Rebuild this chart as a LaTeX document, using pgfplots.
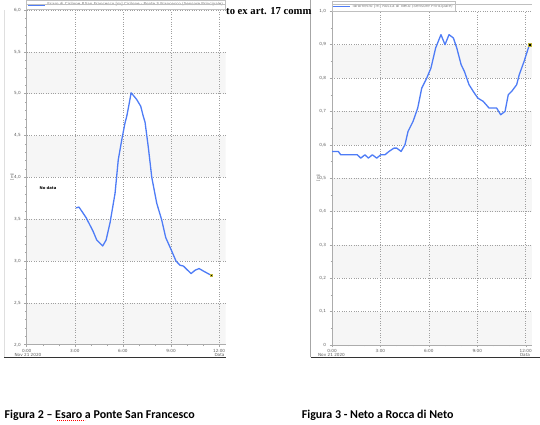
\documentclass[border=0pt]{standalone}
\usepackage{fontspec}
\setmainfont{DejaVu Sans}
\newfontfamily\timesb{Liberation Serif}
\newfontfamily\carlito{Carlito}
\usepackage{pgfplots}
\pgfplotsset{compat=1.18}
\definecolor{band}{rgb}{0.965,0.965,0.965}
\definecolor{lineblue}{RGB}{78,124,246}
\definecolor{tickgray}{RGB}{95,95,95}
\pgfplotsset{
  chartstyle/.style={
    scale only axis,
    axis x line*=bottom, axis y line*=left,
    axis line style={draw=gray!65, line width=0.9bp},
    grid=major,
    major grid style={dotted, draw=gray!75, line width=0.5bp},
    tick align=outside,
    major tick length=2.5bp, minor tick length=1.5bp,
    tick style={draw=gray!70, line width=0.4bp},
    ticklabel style={font=\fontsize{4.2}{5}\selectfont, text=tickgray},
    xticklabel style={yshift=1.8bp},
    /pgf/number format/assume math mode=true,
    xtick={0,3,6,9,12},
    xticklabels={0:00,3:00,6:00,9:00,12:00},
    minor x tick num=2,
    legend style={at={(0,1)}, anchor=south west, draw=gray!50, line width=0.4bp,
      inner sep=0.3bp, outer sep=0pt, yshift=0.5bp,
      font=\fontsize{4.1}{4.3}\selectfont, text=gray, fill=white},
    legend cell align=left,
  },
  bandaxis/.style={scale only axis, hide axis},
  bandstyle/.style={fill=band, draw=none, forget plot},
}
\begin{document}
\begin{tikzpicture}
\fill[white] (0,0) rectangle (540bp,425bp);

% frames
\draw[gray!25, line width=0.6bp] (4bp,67.5bp) -- (4bp,415bp);
\draw[gray!70, line width=1bp] (310.7bp,67.5bp) -- (310.7bp,425bp);
\draw[black!80, line width=1.3bp] (4bp,67.3bp) -- (226bp,67.3bp);
\draw[black!80, line width=1.3bp] (310.7bp,67.3bp) -- (540bp,67.3bp);

% ---------- left chart: bands ----------
\begin{axis}[bandaxis,
  at={(26.7bp,80.3bp)}, anchor=south west,
  width=199bp, height=334.7bp,
  xmin=0, xmax=12.41, ymin=2, ymax=6]
\addplot[bandstyle] coordinates {(0,5) (12.41,5) (12.41,5.5) (0,5.5)};
\addplot[bandstyle] coordinates {(0,4) (12.41,4) (12.41,4.5) (0,4.5)};
\addplot[bandstyle] coordinates {(0,3) (12.41,3) (12.41,3.5) (0,3.5)};
\addplot[bandstyle] coordinates {(0,2) (12.41,2) (12.41,2.5) (0,2.5)};
\end{axis}
% ---------- left chart ----------
\begin{axis}[chartstyle,
  at={(26.7bp,80.3bp)}, anchor=south west,
  width=199bp, height=334.7bp,
  xmin=0, xmax=12.41, ymin=2, ymax=6,
  ytick={2,2.5,3,3.5,4,4.5,5,5.5,6},
  yticklabels={{2,0},{2,5},{3,0},{3,5},{4,0},{4,5},{5,0},{5,5},{6,0}},
  minor y tick num=4,
]
\addplot[lineblue, line width=1.3bp, line join=round] coordinates {
(3.08,3.635) (3.26,3.645) (3.70,3.52) (4.13,3.36) (4.37,3.25) (4.74,3.18)
(4.95,3.25) (5.20,3.46) (5.51,3.81) (5.71,4.21) (5.93,4.45) (6.13,4.65)
(6.24,4.73) (6.40,4.89) (6.51,5.01) (6.65,4.98) (6.86,4.93) (7.11,4.85)
(7.27,4.73) (7.38,4.66) (7.59,4.35) (7.80,4.00) (8.11,3.69) (8.42,3.49)
(8.67,3.28) (9.02,3.13) (9.31,3.00) (9.56,2.95) (9.77,2.94) (10.25,2.85)
(10.50,2.89) (10.75,2.91) (11.02,2.88) (11.50,2.83)
};
\addlegendentry{Esaro di Cirilone P.San Francesco [m] Cirilone - Ponte S.Francesco (Sensore Principale)}
\addplot[only marks, mark=square*, mark size=1.4bp, mark options={fill=black, draw=yellow!70!black, line width=0.4bp}, forget plot] coordinates {(11.50,2.83)};
\end{axis}
\draw[gray!50, line width=0.4bp] (26.7bp,420.3bp) -- (225.7bp,420.3bp);

\node[font=\fontsize{3.8}{4}\selectfont\bfseries] at (48bp,237.3bp) {No data};
\node[font=\fontsize{4}{4}\selectfont, text=tickgray, rotate=90] at (12bp,248bp) {[m]};
\node[font=\fontsize{4.2}{5}\selectfont, text=tickgray, inner sep=0pt] at (28bp,69.8bp) {Nov 21 2020};
\node[font=\fontsize{4.2}{5}\selectfont, text=tickgray, inner sep=0pt] at (219.5bp,69.8bp) {Data};

% ---------- right chart: bands ----------
\begin{axis}[bandaxis,
  at={(332bp,80bp)}, anchor=south west,
  width=200bp, height=333.7bp,
  xmin=0, xmax=12.39, ymin=0, ymax=1]
\addplot[bandstyle] coordinates {(0,0.8) (12.39,0.8) (12.39,0.9) (0,0.9)};
\addplot[bandstyle] coordinates {(0,0.6) (12.39,0.6) (12.39,0.7) (0,0.7)};
\addplot[bandstyle] coordinates {(0,0.4) (12.39,0.4) (12.39,0.5) (0,0.5)};
\addplot[bandstyle] coordinates {(0,0.2) (12.39,0.2) (12.39,0.3) (0,0.3)};
\addplot[bandstyle] coordinates {(0,0.0) (12.39,0.0) (12.39,0.1) (0,0.1)};
\end{axis}
% ---------- right chart ----------
\begin{axis}[chartstyle,
  at={(332bp,80bp)}, anchor=south west,
  width=200bp, height=333.7bp,
  xmin=0, xmax=12.39, ymin=0, ymax=1,
  ytick={0,0.1,0.2,0.3,0.4,0.5,0.6,0.7,0.8,0.9,1},
  yticklabels={0,{0,1},{0,2},{0,3},{0,4},{0,5},{0,6},{0,7},{0,8},{0,9},{1,0}},
  minor y tick num=1,
]
\addplot[lineblue, line width=1.3bp, line join=round] coordinates {
(0,0.58) (0.39,0.58) (0.54,0.57) (1.57,0.57) (1.78,0.56) (2.04,0.57)
(2.25,0.56) (2.50,0.57) (2.77,0.56) (3.02,0.57) (3.28,0.57) (3.53,0.58)
(3.84,0.59) (4.01,0.59) (4.28,0.58) (4.52,0.60) (4.71,0.64) (5.02,0.67)
(5.31,0.71) (5.56,0.77) (5.87,0.80) (6.13,0.83) (6.42,0.89) (6.75,0.93)
(7.00,0.90) (7.25,0.93) (7.52,0.92) (7.73,0.89) (8.00,0.84) (8.20,0.82)
(8.49,0.78) (8.75,0.76) (9.03,0.74) (9.37,0.73) (9.73,0.71) (10.20,0.71)
(10.45,0.69) (10.72,0.70) (10.92,0.75) (11.13,0.76) (11.44,0.78) (11.60,0.81)
(11.90,0.85) (12.23,0.90)
};
\addlegendentry{Idrometro [m] Rocca di Neto (Sensore Principale)}
\addplot[only marks, mark=square*, mark size=1.4bp, mark options={fill=black, draw=yellow!70!black, line width=0.4bp}, forget plot] coordinates {(12.23,0.90)};
\end{axis}
\draw[gray!50, line width=0.4bp] (332bp,420.3bp) -- (532bp,420.3bp);

\node[font=\fontsize{4}{4}\selectfont, text=tickgray, rotate=90] at (318.3bp,247bp) {[m]};
\node[font=\fontsize{4.2}{5}\selectfont, text=tickgray, inner sep=0pt] at (331.5bp,69.8bp) {Nov 21 2020};
\node[font=\fontsize{4.2}{5}\selectfont, text=tickgray, inner sep=0pt] at (525bp,69.8bp) {Data};

% ---------- document text ----------
\node[anchor=base west, inner sep=0pt, font=\timesb\bfseries\fontsize{10.7}{12}\selectfont] at (226bp,410bp) {to ex art. 17 comm};
\node[anchor=base west, inner sep=0pt, font=\carlito\bfseries\fontsize{12}{14}\selectfont] at (4.5bp,7bp) {Figura 2 – Esaro a Ponte San Francesco};
\node[anchor=base west, inner sep=0pt, font=\carlito\bfseries\fontsize{12}{14}\selectfont] at (301.7bp,7bp) {Figura 3 - Neto a Rocca di Neto};
\draw[red, line width=0.6bp, dash pattern=on 1.2bp off 0.8bp] (57bp,4.2bp) -- (85bp,4.2bp);
\pgfresetboundingbox
\path (0,0) rectangle (540bp,425bp);
\end{tikzpicture}
\end{document}
